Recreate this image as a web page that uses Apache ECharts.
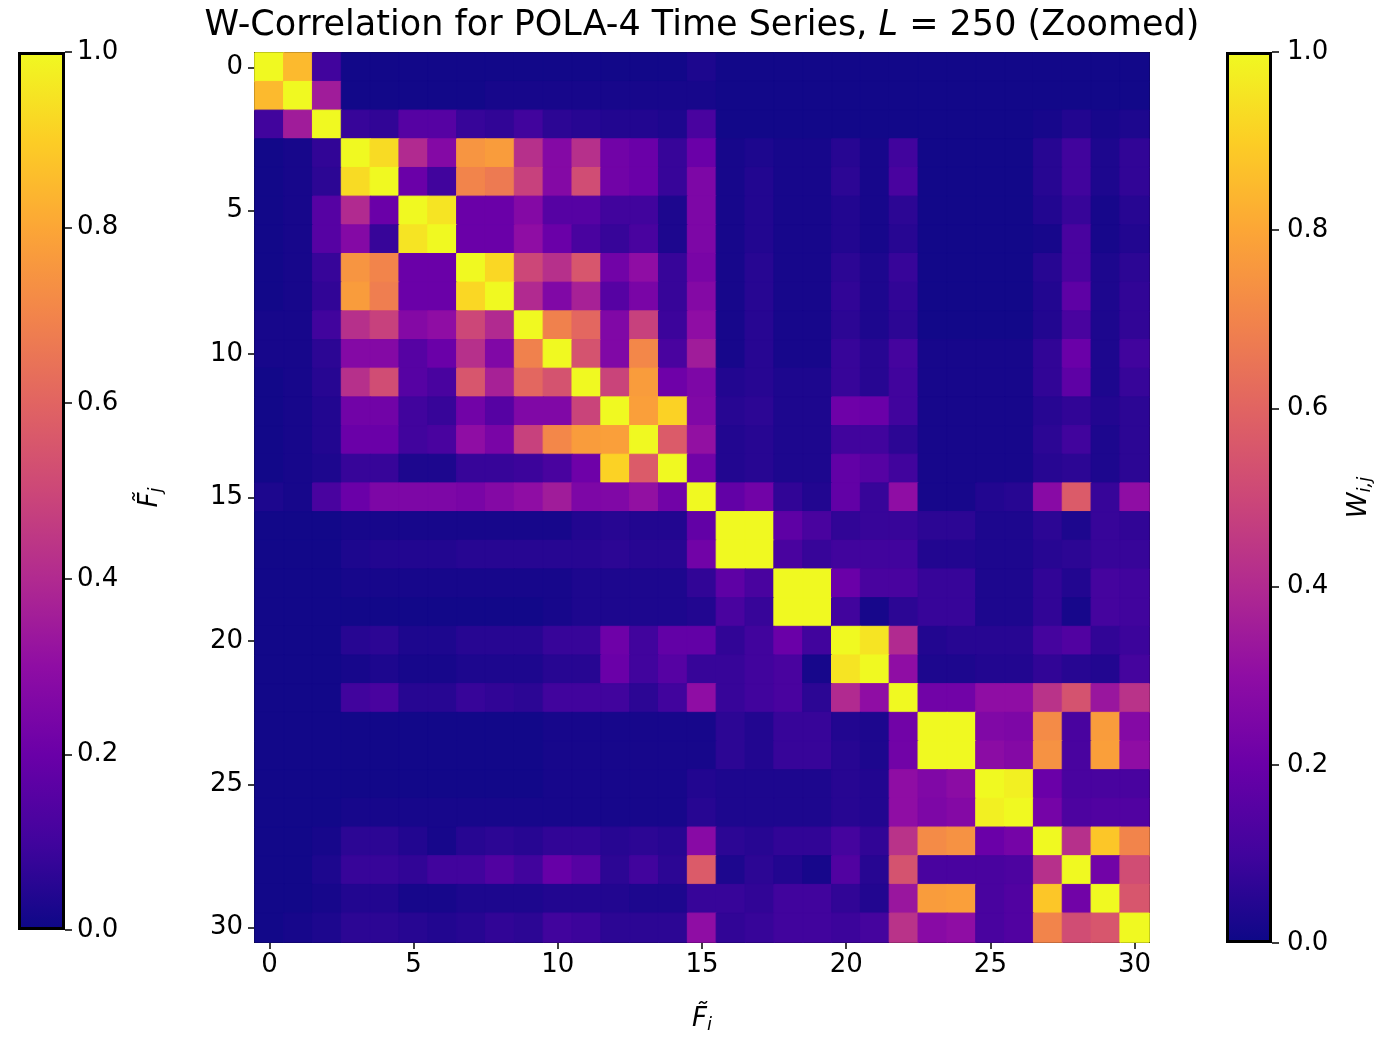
<!DOCTYPE html>
<html>
<head>
<meta charset="utf-8">
<script src="https://cdn.jsdelivr.net/npm/echarts@6/dist/echarts.min.js"></script>
<style>html,body{margin:0;padding:0;background:#fff;}#c{width:1390px;height:1039px;}</style>
</head>
<body>
<div id="c"></div>
<script>
const categories = ['0','1','2','3','4','5','6','7','8','9','10','11','12','13','14','15','16','17','18','19','20','21','22','23','24','25','26','27','28','29','30'];
const tickLabelsCB = [0.0, 0.2, 0.4, 0.6, 0.8, 1.0];
const plasma = ['#0d0887','#41049d','#6a00a8','#8f0da4','#b12a90','#cc4778','#e16462','#f2844b','#fca636','#fcce25','#f0f921'];

const row0  = [1.0,0.85,0.1,0.01,0.01,0.01,0.01,0.01,0.01,0.01,0.01,0.01,0.01,0.01,0.01,0.03,0.01,0.01,0.01,0.01,0.01,0.01,0.01,0.01,0.01,0.01,0.01,0.01,0.01,0.01,0.01];
const row1  = [0.85,1.0,0.35,0.01,0.01,0.01,0.01,0.01,0.02,0.02,0.02,0.02,0.02,0.02,0.02,0.02,0.01,0.01,0.01,0.01,0.01,0.01,0.01,0.01,0.01,0.01,0.01,0.01,0.01,0.01,0.01];
const row2  = [0.1,0.35,1.0,0.08,0.07,0.15,0.15,0.08,0.07,0.1,0.06,0.05,0.04,0.04,0.03,0.12,0.01,0.01,0.01,0.01,0.01,0.01,0.01,0.01,0.01,0.01,0.01,0.02,0.04,0.02,0.03];
const row3  = [0.01,0.02,0.07,1.0,0.93,0.4,0.27,0.75,0.77,0.42,0.27,0.42,0.22,0.2,0.08,0.2,0.02,0.03,0.02,0.02,0.05,0.02,0.1,0.01,0.01,0.01,0.01,0.05,0.1,0.03,0.07];
const row4  = [0.01,0.02,0.06,0.93,1.0,0.2,0.1,0.7,0.67,0.48,0.27,0.52,0.22,0.2,0.08,0.25,0.02,0.04,0.02,0.02,0.06,0.02,0.12,0.01,0.01,0.01,0.01,0.05,0.1,0.03,0.07];
const row5  = [0.01,0.02,0.15,0.4,0.2,1.0,0.95,0.2,0.2,0.27,0.15,0.15,0.1,0.1,0.03,0.25,0.02,0.04,0.02,0.02,0.04,0.02,0.06,0.01,0.01,0.01,0.01,0.04,0.08,0.02,0.05];
const row6  = [0.01,0.02,0.15,0.27,0.08,0.95,1.0,0.2,0.2,0.3,0.2,0.12,0.08,0.12,0.03,0.25,0.02,0.04,0.02,0.02,0.04,0.02,0.05,0.01,0.01,0.01,0.01,0.02,0.12,0.02,0.04];
const row7  = [0.01,0.02,0.08,0.75,0.7,0.2,0.2,1.0,0.92,0.5,0.42,0.55,0.22,0.3,0.08,0.24,0.02,0.05,0.02,0.02,0.06,0.03,0.08,0.01,0.01,0.01,0.01,0.05,0.12,0.03,0.06];
const row8  = [0.01,0.02,0.07,0.77,0.68,0.2,0.2,0.92,1.0,0.4,0.26,0.37,0.15,0.24,0.08,0.27,0.02,0.05,0.02,0.02,0.07,0.03,0.07,0.01,0.01,0.01,0.01,0.04,0.17,0.03,0.07];
const row9  = [0.02,0.02,0.1,0.42,0.48,0.27,0.3,0.5,0.4,1.0,0.69,0.61,0.26,0.48,0.09,0.3,0.02,0.05,0.02,0.02,0.06,0.03,0.06,0.01,0.01,0.01,0.01,0.04,0.12,0.03,0.07];
const row10 = [0.02,0.02,0.06,0.27,0.27,0.15,0.2,0.42,0.26,0.69,1.0,0.54,0.26,0.71,0.12,0.35,0.02,0.05,0.02,0.02,0.08,0.05,0.11,0.02,0.02,0.02,0.02,0.07,0.2,0.03,0.1];
const row11 = [0.01,0.02,0.05,0.42,0.52,0.15,0.12,0.55,0.37,0.61,0.54,1.0,0.49,0.77,0.21,0.25,0.04,0.05,0.03,0.03,0.08,0.05,0.1,0.02,0.02,0.02,0.02,0.07,0.17,0.03,0.08];
const row12 = [0.01,0.02,0.04,0.22,0.22,0.1,0.08,0.22,0.15,0.26,0.26,0.49,1.0,0.78,0.91,0.26,0.05,0.06,0.03,0.03,0.21,0.2,0.1,0.02,0.02,0.02,0.02,0.05,0.07,0.04,0.06];
const row13 = [0.01,0.02,0.04,0.2,0.2,0.1,0.12,0.3,0.24,0.48,0.71,0.77,0.78,1.0,0.57,0.31,0.04,0.05,0.03,0.03,0.1,0.1,0.06,0.02,0.02,0.02,0.02,0.06,0.1,0.03,0.06];
const row14 = [0.01,0.02,0.03,0.08,0.08,0.03,0.03,0.08,0.08,0.09,0.12,0.21,0.91,0.57,1.0,0.22,0.04,0.05,0.03,0.03,0.18,0.15,0.1,0.02,0.02,0.02,0.02,0.05,0.06,0.03,0.06];
const row15 = [0.03,0.02,0.12,0.2,0.25,0.25,0.25,0.24,0.27,0.3,0.35,0.25,0.26,0.31,0.22,1.0,0.18,0.22,0.07,0.04,0.18,0.08,0.3,0.02,0.02,0.04,0.05,0.28,0.57,0.08,0.3];
const row16 = [0.01,0.01,0.01,0.02,0.02,0.02,0.02,0.02,0.02,0.02,0.02,0.04,0.05,0.04,0.04,0.18,1.0,1.0,0.17,0.12,0.07,0.08,0.08,0.06,0.06,0.03,0.03,0.06,0.03,0.08,0.07];
const row17 = [0.01,0.01,0.01,0.03,0.04,0.04,0.04,0.05,0.05,0.05,0.05,0.05,0.06,0.05,0.05,0.22,1.0,1.0,0.12,0.08,0.1,0.1,0.1,0.04,0.04,0.03,0.03,0.05,0.06,0.08,0.08];
const row18 = [0.01,0.01,0.01,0.02,0.02,0.02,0.02,0.02,0.02,0.02,0.02,0.03,0.03,0.03,0.03,0.07,0.17,0.12,1.0,1.0,0.2,0.12,0.12,0.08,0.08,0.03,0.03,0.07,0.04,0.11,0.1];
const row19 = [0.01,0.01,0.01,0.01,0.01,0.01,0.01,0.01,0.01,0.01,0.02,0.03,0.03,0.03,0.03,0.04,0.12,0.08,1.0,1.0,0.1,0.02,0.06,0.08,0.08,0.03,0.03,0.07,0.02,0.11,0.1];
const row20 = [0.01,0.01,0.01,0.05,0.06,0.03,0.03,0.05,0.05,0.05,0.08,0.08,0.21,0.1,0.18,0.18,0.07,0.1,0.2,0.1,1.0,0.95,0.4,0.04,0.05,0.05,0.05,0.11,0.14,0.07,0.09];
const row21 = [0.01,0.01,0.01,0.02,0.03,0.02,0.02,0.03,0.03,0.03,0.05,0.05,0.2,0.1,0.15,0.08,0.08,0.1,0.12,0.02,0.95,1.0,0.3,0.03,0.03,0.04,0.04,0.07,0.05,0.04,0.11];
const row22 = [0.01,0.01,0.01,0.1,0.12,0.05,0.05,0.08,0.07,0.06,0.1,0.1,0.1,0.06,0.1,0.3,0.08,0.1,0.12,0.06,0.4,0.3,1.0,0.22,0.22,0.3,0.3,0.43,0.54,0.33,0.43];
const row23 = [0.01,0.01,0.01,0.01,0.01,0.01,0.01,0.01,0.01,0.01,0.02,0.02,0.02,0.02,0.02,0.02,0.06,0.04,0.08,0.08,0.04,0.03,0.22,1.0,1.0,0.26,0.25,0.72,0.12,0.77,0.27];
const row24 = [0.01,0.01,0.01,0.01,0.01,0.01,0.01,0.01,0.01,0.01,0.02,0.02,0.02,0.02,0.02,0.02,0.06,0.04,0.08,0.08,0.05,0.03,0.22,1.0,1.0,0.29,0.27,0.74,0.12,0.78,0.3];
const row25 = [0.01,0.01,0.01,0.01,0.01,0.01,0.01,0.01,0.01,0.01,0.02,0.02,0.02,0.02,0.02,0.04,0.03,0.03,0.03,0.03,0.05,0.04,0.3,0.26,0.29,1.0,0.98,0.2,0.12,0.12,0.12];
const row26 = [0.01,0.01,0.01,0.02,0.02,0.02,0.02,0.02,0.02,0.02,0.02,0.02,0.02,0.02,0.02,0.05,0.03,0.03,0.03,0.03,0.05,0.04,0.3,0.25,0.27,0.98,1.0,0.23,0.13,0.14,0.14];
const row27 = [0.01,0.01,0.02,0.06,0.06,0.04,0.02,0.05,0.06,0.05,0.07,0.07,0.05,0.06,0.05,0.28,0.06,0.05,0.07,0.07,0.11,0.07,0.43,0.72,0.74,0.2,0.23,1.0,0.42,0.88,0.7];
const row28 = [0.01,0.01,0.03,0.08,0.08,0.07,0.1,0.1,0.14,0.1,0.19,0.15,0.06,0.1,0.06,0.57,0.03,0.06,0.04,0.02,0.14,0.05,0.54,0.12,0.12,0.12,0.13,0.42,1.0,0.22,0.52];
const row29 = [0.01,0.01,0.02,0.04,0.04,0.02,0.02,0.03,0.03,0.03,0.04,0.04,0.04,0.03,0.03,0.08,0.08,0.07,0.1,0.1,0.07,0.04,0.33,0.77,0.78,0.12,0.14,0.88,0.22,1.0,0.55];
const row30 = [0.01,0.02,0.03,0.06,0.06,0.05,0.04,0.05,0.07,0.06,0.1,0.09,0.06,0.06,0.06,0.3,0.07,0.08,0.1,0.1,0.09,0.11,0.43,0.28,0.3,0.12,0.14,0.7,0.52,0.55,1.0];

const rows = [row0,row1,row2,row3,row4,row5,row6,row7,row8,row9,row10,row11,row12,row13,row14,row15,row16,row17,row18,row19,row20,row21,row22,row23,row24,row25,row26,row27,row28,row29,row30];

// colours from the plasma colormap via ECharts' own interpolation; same-colour stroke hides seams
const heatData = [];
rows.forEach((r, j) => r.forEach((v, i) => {
  const c = echarts.color.lerp(Math.max(0, Math.min(1, v)), plasma);
  heatData.push({value: [i, j, v], itemStyle: {color: c, borderColor: c, borderWidth: 1}});
}));

const FONT = 'DejaVu Sans';
const TICK_FS = 26;
const chart = echarts.init(document.getElementById('c'));

const gradStops = plasma.map((c, k) => ({offset: k / (plasma.length - 1), color: c}));
const cbGradient = new echarts.graphic.LinearGradient(0, 1, 0, 0, gradStops);

const HM = {left: 255, top: 53, width: 894, height: 891};
const CBL = {left: 18, top: 52, width: 47, height: 878};
const CBR = {left: 1226, top: 52, width: 46, height: 891};

const tickStyle = {show: true, length: 7, lineStyle: {color: '#000', width: 1.5}};
const lblStyle = {color: '#000', fontFamily: FONT, fontSize: TICK_FS};
const nameRich = () => ({
  f: {fontFamily: FONT, fontSize: 26, fontStyle: 'italic', color: '#000'},
  s: {fontFamily: FONT, fontSize: 18, fontStyle: 'italic', color: '#000', verticalAlign: 'bottom', padding: [12, 0, 0, 0]}
});

chart.setOption({
  animation: false,
  backgroundColor: '#fff',
  title: {
    text: '{n|W-Correlation for POLA-4 Time Series, }{i|L}{n| = 250 (Zoomed)}',
    left: 697, top: 3, textAlign: 'center',
    textStyle: {
      fontWeight: 'normal',
      rich: {
        n: {fontFamily: FONT, fontSize: 35, fontWeight: 'normal', color: '#000'},
        i: {fontFamily: FONT, fontSize: 35, fontWeight: 'normal', color: '#000', fontStyle: 'italic'}
      }
    }
  },
  grid: [
    Object.assign({containLabel: false}, HM),
    Object.assign({containLabel: false}, CBL),
    Object.assign({containLabel: false}, CBR)
  ],
  xAxis: [
    {gridIndex: 0, type: 'category', data: categories, position: 'bottom',
     axisLine: {show: true, onZero: false, lineStyle: {color: '#000', width: 2}},
     axisTick: Object.assign({interval: 4, alignWithLabel: true}, tickStyle),
     axisLabel: Object.assign({interval: 4, margin: 10}, lblStyle),
     splitLine: {show: false},
     name: '{f|F\u0303}{s|i}', nameLocation: 'middle', nameGap: 62,
     nameTextStyle: {rich: nameRich()}
    },
    {gridIndex: 0, type: 'category', data: categories, position: 'top',
     axisLine: {show: true, onZero: false, lineStyle: {color: '#000', width: 2}},
     axisTick: {show: false}, axisLabel: {show: false}, splitLine: {show: false}},
    {gridIndex: 1, type: 'category', data: ['cb'], show: false},
    {gridIndex: 2, type: 'category', data: ['cb'], show: false}
  ],
  yAxis: [
    {gridIndex: 0, type: 'category', data: categories, inverse: true, position: 'left',
     axisLine: {show: true, onZero: false, lineStyle: {color: '#000', width: 2}},
     axisTick: Object.assign({interval: 4, alignWithLabel: true}, tickStyle),
     axisLabel: Object.assign({interval: 4, margin: 12}, lblStyle),
     splitLine: {show: false},
     name: '{f|F\u0303}{s|j}', nameLocation: 'middle', nameGap: 90, nameRotate: 90,
     nameTextStyle: {rich: nameRich()}
    },
    {gridIndex: 0, type: 'category', data: categories, inverse: true, position: 'right',
     axisLine: {show: true, onZero: false, lineStyle: {color: '#000', width: 2}},
     axisTick: {show: false}, axisLabel: {show: false}, splitLine: {show: false}},
    {gridIndex: 1, type: 'value', min: tickLabelsCB[0], max: tickLabelsCB[tickLabelsCB.length - 1], interval: 0.2, position: 'right',
     axisLine: {show: false}, axisTick: tickStyle, splitLine: {show: false},
     axisLabel: Object.assign({margin: 12, formatter: v => v.toFixed(1)}, lblStyle)},
    {gridIndex: 2, type: 'value', min: tickLabelsCB[0], max: tickLabelsCB[tickLabelsCB.length - 1], interval: 0.2, position: 'right',
     axisLine: {show: false}, axisTick: tickStyle, splitLine: {show: false},
     axisLabel: Object.assign({margin: 15, formatter: v => v.toFixed(1)}, lblStyle),
     name: '{f|W}{s|i,j}', nameLocation: 'middle', nameGap: 72, nameRotate: 90,
     nameTextStyle: {rich: nameRich()}
    }
  ],
  series: [
    {type: 'heatmap', xAxisIndex: 0, yAxisIndex: 0, data: heatData, emphasis: {disabled: true}},
    {type: 'bar', xAxisIndex: 2, yAxisIndex: 2, data: [tickLabelsCB[tickLabelsCB.length - 1]], barWidth: '100%',
     itemStyle: {color: cbGradient, borderColor: '#000', borderWidth: 3}, silent: true},
    {type: 'bar', xAxisIndex: 3, yAxisIndex: 3, data: [tickLabelsCB[tickLabelsCB.length - 1]], barWidth: '100%',
     itemStyle: {color: cbGradient, borderColor: '#000', borderWidth: 3}, silent: true}
  ]
});
</script>
</body>
</html>
